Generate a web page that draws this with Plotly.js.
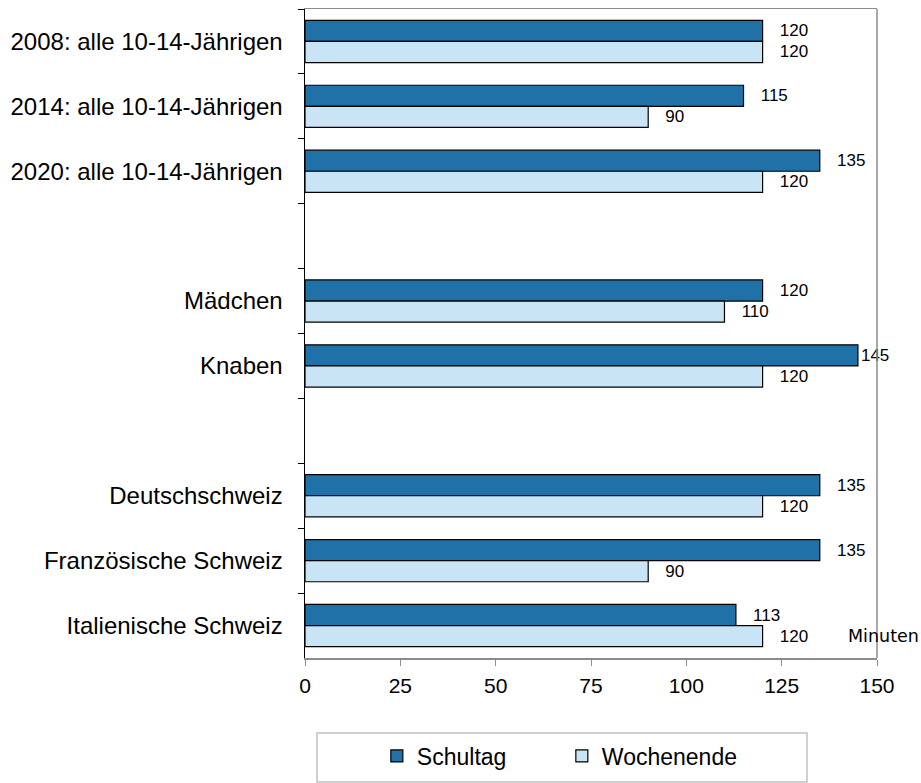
<!DOCTYPE html>
<html>
<head>
<meta charset="utf-8">
<script src="https://cdn.plot.ly/plotly-3.0.1.min.js"></script>
<style>html,body{margin:0;padding:0;background:#fff;}#chart{width:921px;height:783px;}</style>
</head>
<body>
<div id="chart"></div>
<script>
const categories = ['2008: alle 10-14-Jährigen', '2014: alle 10-14-Jährigen', '2020: alle 10-14-Jährigen', ' ', 'Mädchen', 'Knaben', '  ', 'Deutschschweiz', 'Französische Schweiz', 'Italienische Schweiz'];
const schultag = [120, 115, 135, null, 120, 145, null, 135, 135, 113];
const wochenende = [120, 90, 120, null, 110, 120, null, 120, 90, 120];
const xTicks = [0, 25, 50, 75, 100, 125, 150];
const seriesNames = ['Schultag', 'Wochenende'];
const unitLabel = 'Minuten';

const pad = '\u00a0\u00a0\u00a0';
function labels(vals) {
  return vals.map(v => v == null ? '' : (v >= 140 ? String(v) : pad + v));
}

const darkBlue = 'rgb(31,113,167)';
const lightBlue = 'rgb(201,228,245)';

const traces = [
  {type: 'bar', orientation: 'h', name: seriesNames[0], y: categories, x: schultag,
   marker: {color: darkBlue, line: {color: '#000', width: 1.2}},
   text: labels(schultag), textposition: 'outside', constraintext: 'none', cliponaxis: false,
   textfont: {family: 'Liberation Sans, Arial, sans-serif', size: 17, color: '#000'}, hoverinfo: 'x'},
  {type: 'bar', orientation: 'h', name: seriesNames[1], y: categories, x: wochenende,
   marker: {color: lightBlue, line: {color: '#000', width: 1.2}},
   text: labels(wochenende), textposition: 'outside', constraintext: 'none', cliponaxis: false,
   textfont: {family: 'Liberation Sans, Arial, sans-serif', size: 17, color: '#000'}, hoverinfo: 'x'}
];

const layout = {
  width: 921, height: 783,
  margin: {l: 305, r: 44, t: 9, b: 125, pad: 0, autoexpand: false},
  paper_bgcolor: '#fff', plot_bgcolor: '#fff',
  font: {family: 'Liberation Sans, Arial, sans-serif', color: '#000'},
  barmode: 'group', bargap: 0.35, bargroupgap: 0,
  showlegend: true,
  legend: {orientation: 'h', x: 0.1256, xanchor: 'left', yref: 'container', y: 0.0345, yanchor: 'middle',
           font: {size: 23, color: '#000'}, entrywidth: 140, bgcolor: 'rgba(0,0,0,0)', borderwidth: 0,
           traceorder: 'normal'},
  xaxis: {range: [0, 150], tickvals: xTicks, ticks: 'outside', ticklen: 6, tickcolor: '#8c8c8c',
          showline: true, linecolor: '#8c8c8c', linewidth: 1.5, mirror: true, showgrid: false, zeroline: false,
          tickfont: {size: 21, color: '#000'}, ticklabelstandoff: 2, automargin: false, fixedrange: true},
  yaxis: {type: 'category', categoryorder: 'array', categoryarray: categories, autorange: 'reversed',
          tickson: 'boundaries', ticks: 'outside', ticklen: 6, tickcolor: '#000',
          showline: true, linecolor: '#000', linewidth: 1.5, showgrid: false, zeroline: false,
          tickfont: {size: 24, color: '#000'}, ticklabelstandoff: 16, automargin: false, fixedrange: true},
  shapes: [
    {type: 'line', xref: 'paper', yref: 'paper', x0: 1, x1: 1, y0: 0, y1: 1, line: {color: '#8c8c8c', width: 1.5}},
    {type: 'rect', xref: 'paper', yref: 'paper', x0: 0.021, x1: 0.8776, y0: -0.191, y1: -0.1156,
     line: {color: '#c0c0c0', width: 1.5}, fillcolor: 'rgba(0,0,0,0)'}
  ],
  annotations: [
    {xref: 'paper', yref: 'paper', x: 0.945, y: 0.034, xanchor: 'left', yanchor: 'middle', showarrow: false,
     text: unitLabel, font: {family: 'DejaVu Sans, Verdana, sans-serif', size: 17.5, color: '#000'}}
  ]
};

Plotly.newPlot('chart', traces, layout, {displayModeBar: false, staticPlot: true});
</script>
</body>
</html>
